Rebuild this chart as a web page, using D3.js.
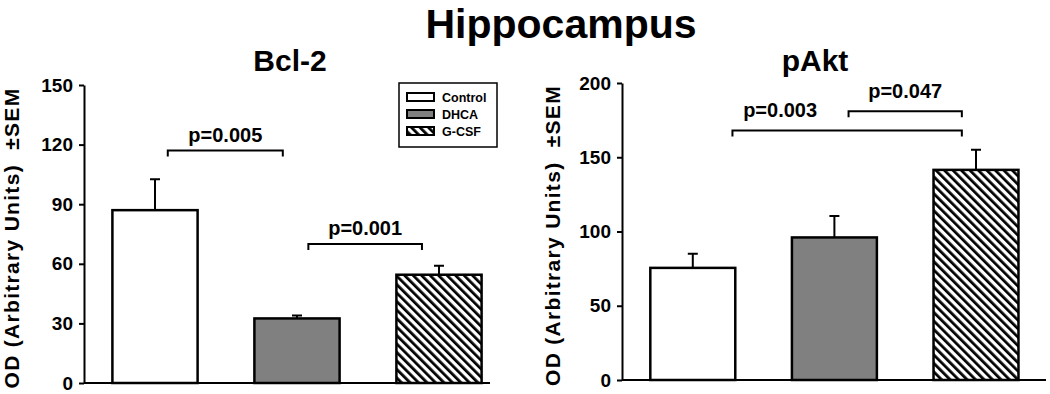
<!DOCTYPE html>
<html>
<head>
<meta charset="utf-8">
<script src="https://cdn.jsdelivr.net/npm/d3@7"></script>
<style>
  body { margin: 0; background: #fff; }
  svg { font-family: "Liberation Sans", Arial, sans-serif; font-weight: bold; }
</style>
</head>
<body>
<svg id="chart" width="1050" height="394"></svg>
<script>
// groups shared by both panels
const groups = ['Control', 'DHCA', 'G-CSF'];

// Bcl-2 panel
const bclMean = [87, 32.5, 54.5];
const bclSem = [15.5, 1.5, 4.5];
const bclTicks = [0, 30, 60, 90, 120, 150];
// brackets: ends in group-index units, y in data units
const bclBrackets = [
  {x1: 0.09, x2: 0.9, y: 117, label: 'p=0.005', dy: 9, dx: 0},
  {x1: 1.08, x2: 1.88, y: 70, label: 'p=0.001', dy: 9, dx: 0}
];

// pAkt panel
const aktMean = [75.5, 96, 141.5];
const aktSem = [9.5, 14.5, 13.5];
const aktTicks = [0, 50, 100, 150, 200];
const aktBrackets = [
  {x1: 0.28, x2: 1.9, y: 168, label: 'p=0.003', dy: 14, dx: -67},
  {x1: 1.1, x2: 1.9, y: 181, label: 'p=0.047', dy: 13, dx: 0}
];

const fills = ['#ffffff', '#808080', 'url(#hatch)'];

const svg = d3.select('#chart');

// diagonal hatch (top-left to bottom-right) for G-CSF
const defs = svg.append('defs');
const pat = defs.append('pattern')
  .attr('id', 'hatch')
  .attr('patternUnits', 'userSpaceOnUse')
  .attr('width', 6)
  .attr('height', 6)
  .attr('patternTransform', 'rotate(-45)');
pat.append('rect').attr('width', 6).attr('height', 6).attr('fill', '#fff');
pat.append('line')
  .attr('x1', 0).attr('y1', 0).attr('x2', 0).attr('y2', 6)
  .attr('stroke', '#000').attr('stroke-width', 5.5);

svg.append('text')
  .attr('x', 561).attr('y', 37.5)
  .attr('text-anchor', 'middle')
  .style('font-size', '41px')
  .text('Hippocampus');

function drawPanel(opt) {
  const y = d3.scaleLinear().domain([0, opt.max]).range([opt.y0, opt.y1]);
  const x = d3.scaleBand().domain(groups)
    .range([opt.ax, opt.ax + 3 * opt.step])
    .paddingInner(0.4).paddingOuter(0.2);
  const xi = d3.scaleLinear().domain([0, 1])
    .range([x(groups[0]) + x.bandwidth() / 2, x(groups[1]) + x.bandwidth() / 2]);

  const g = svg.append('g');

  // title
  g.append('text')
    .attr('x', opt.titleX).attr('y', 71)
    .attr('text-anchor', 'middle')
    .style('font-size', '30px')
    .text(opt.title);

  // y axis
  const yAxis = g.append('g')
    .attr('transform', `translate(${opt.ax},0)`)
    .call(d3.axisLeft(y).tickValues(opt.ticks).tickSize(5).tickSizeOuter(0).tickPadding(6));
  yAxis.select('.domain').attr('stroke-width', 2);
  yAxis.selectAll('.tick line').attr('stroke-width', 2);
  yAxis.selectAll('.tick text')
    .style('font-size', '19px')
    .style('font-family', '"Liberation Sans", Arial, sans-serif')
    .style('font-weight', 'bold')
    .attr('fill', '#000');

  // axis label
  g.append('text')
    .attr('transform', `translate(${opt.labelX},${(opt.y0 + opt.y1) / 2 + 4}) rotate(-90)`)
    .attr('text-anchor', 'middle')
    .style('font-size', '21px')
    .style('letter-spacing', '1.3px')
    .style('white-space', 'pre')
    .text('OD (Arbitrary Units)  \u00b1SEM');

  // error bars
  g.selectAll('.err')
    .data(groups)
    .enter()
    .append('path')
    .attr('fill', 'none')
    .attr('stroke', '#000')
    .attr('stroke-width', 2)
    .attr('d', (d, i) => {
      const cx = x(d) + x.bandwidth() / 2;
      const top = y(opt.mean[i] + opt.sem[i]);
      return `M${cx},${y(opt.mean[i])}V${top}M${cx - 5},${top}H${cx + 5}`;
    });

  // bars
  g.selectAll('.bar')
    .data(groups)
    .enter()
    .append('rect')
    .attr('x', d => x(d))
    .attr('y', (d, i) => y(opt.mean[i]))
    .attr('width', x.bandwidth())
    .attr('height', (d, i) => y(0) - y(opt.mean[i]))
    .attr('fill', (d, i) => fills[i])
    .attr('stroke', '#000')
    .attr('stroke-width', 2.5);

  // baseline
  g.append('line')
    .attr('x1', opt.ax).attr('x2', opt.xEnd)
    .attr('y1', y(0)).attr('y2', y(0))
    .attr('stroke', '#000').attr('stroke-width', 2);

  // significance brackets
  opt.brackets.forEach(b => {
    const yy = y(b.y);
    g.append('path')
      .attr('fill', 'none')
      .attr('stroke', '#000')
      .attr('stroke-width', 2)
      .attr('d', `M${xi(b.x1)},${yy + 6}V${yy}H${xi(b.x2)}V${yy + 6}`);
    g.append('text')
      .attr('x', (xi(b.x1) + xi(b.x2)) / 2 + b.dx)
      .attr('y', yy - b.dy)
      .attr('text-anchor', 'middle')
      .style('font-size', '20px')
      .text(b.label);
  });
}

drawPanel({
  title: 'Bcl-2', titleX: 290,
  mean: bclMean, sem: bclSem, ticks: bclTicks, max: 150,
  brackets: bclBrackets,
  ax: 84, step: 142, xEnd: 490, y0: 383, y1: 85, labelX: 19
});

drawPanel({
  title: 'pAkt', titleX: 815,
  mean: aktMean, sem: aktSem, ticks: aktTicks, max: 200,
  brackets: aktBrackets,
  ax: 622, step: 141.6, xEnd: 1046, y0: 380, y1: 83, labelX: 560
});

// legend
const leg = svg.append('g').attr('transform', 'translate(399,83)');
leg.append('rect')
  .attr('width', 98).attr('height', 64)
  .attr('fill', '#fff').attr('stroke', '#000').attr('stroke-width', 1.5);
groups.forEach((grp, i) => {
  leg.append('rect')
    .attr('x', 8).attr('y', 10 + i * 17)
    .attr('width', 27).attr('height', 8)
    .attr('fill', fills[i]).attr('stroke', '#000').attr('stroke-width', 2);
  leg.append('text')
    .attr('x', 43).attr('y', 19 + i * 17)
    .style('font-size', '12.5px')
    .text(grp);
});
</script>
</body>
</html>
